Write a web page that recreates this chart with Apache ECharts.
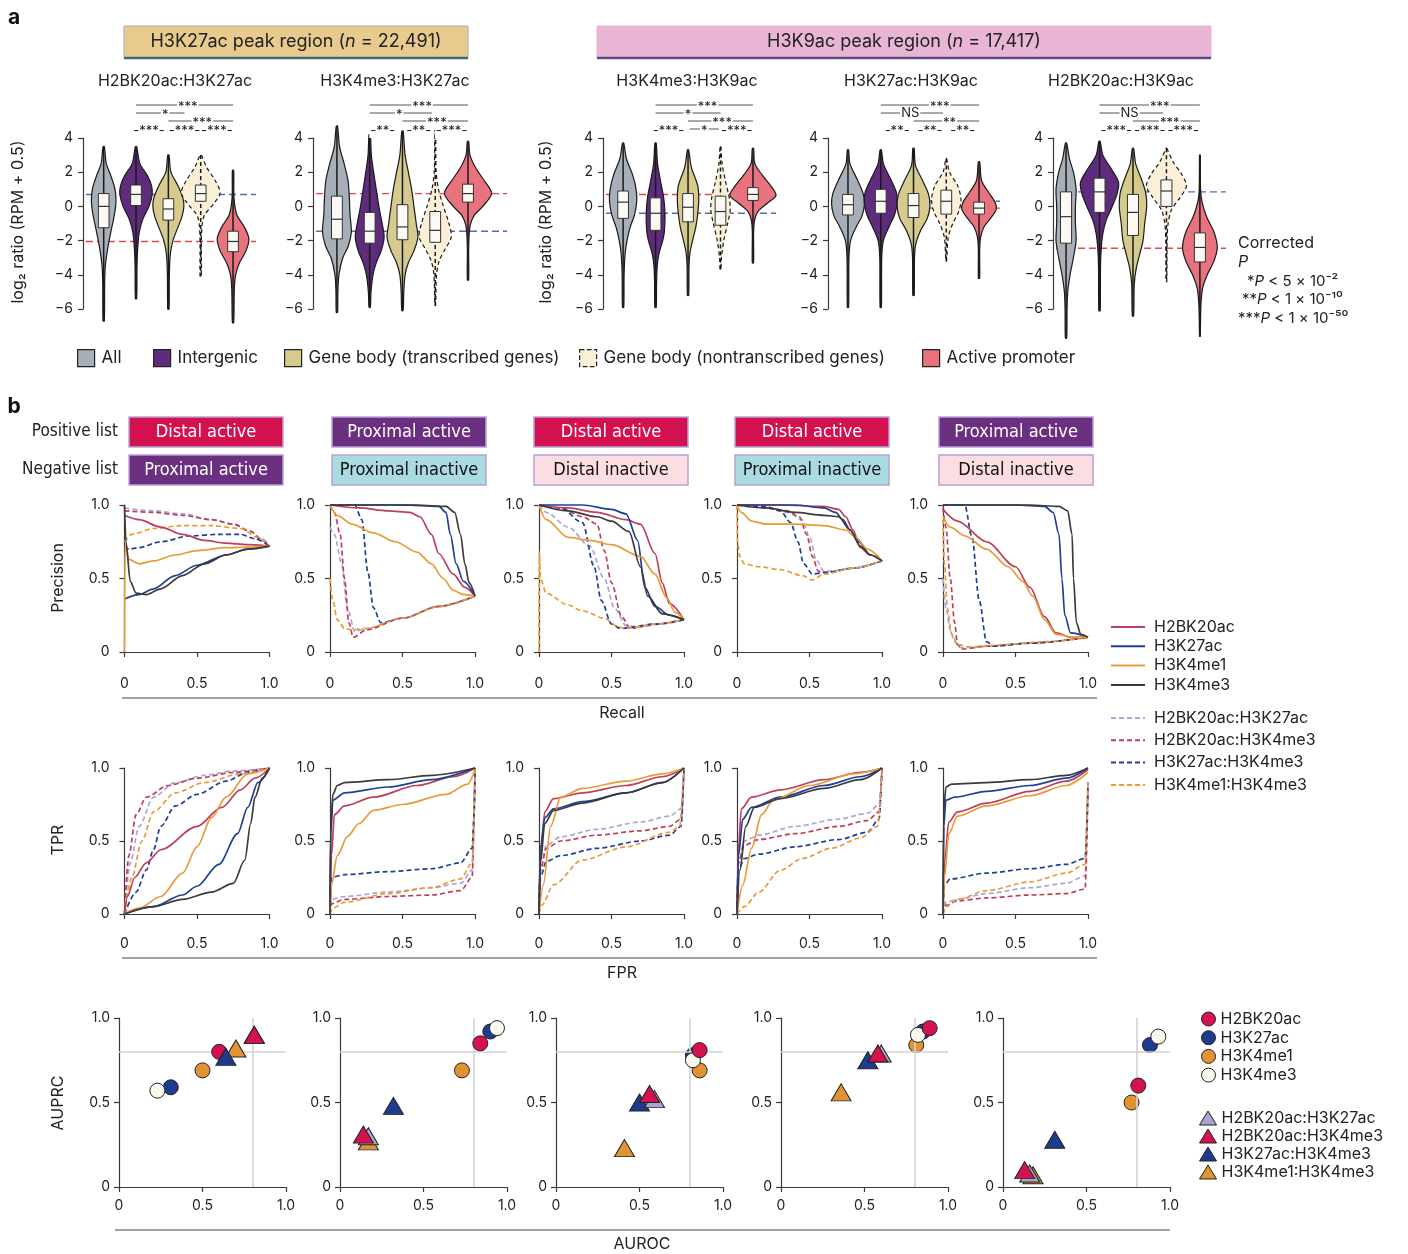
<!DOCTYPE html>
<html><head><meta charset="utf-8">
<script src="https://cdn.jsdelivr.net/npm/echarts@6/dist/echarts.min.js"></script>
<style>html,body{margin:0;padding:0;background:#fff}#c{width:1408px;height:1254px}</style>
</head><body><div id="c"></div><script>
// ---------------- DATA ----------------
const groupNames = ['All','Intergenic','Gene body (transcribed genes)','Gene body (nontranscribed genes)','Active promoter'];
const violinTitles = ['H2BK20ac:H3K27ac','H3K4me3:H3K27ac','H3K4me3:H3K9ac','H3K27ac:H3K9ac','H2BK20ac:H3K9ac'];
const violinTicks = [-6,-4,-2,0,2,4];
// [lo, q1, median, q3, hi] (log2 ratio)
const violinStats = [
 [[-6.7,-1.25,0,0.75,3.5],[-5.4,0.05,0.7,1.25,3.5],[-6.0,-0.8,-0.15,0.45,3.0],[-4.1,0.3,0.75,1.25,3.0],[-6.8,-2.65,-2.05,-1.45,2.1]],
 [[-6.2,-1.9,-0.75,0.6,4.7],[-5.9,-2.15,-1.45,-0.35,4.2],[-6.1,-1.95,-1.2,0.1,4.4],[-5.8,-2.1,-1.4,-0.3,4.7],[-4.3,0.25,0.75,1.3,3.8]],
 [[-5.9,-0.7,0.25,0.9,3.7],[-5.9,-1.4,-0.4,0.5,3.7],[-5.2,-0.9,-0.05,0.75,3.3],[-3.7,-1.1,-0.3,0.6,3.5],[-3.3,0.35,0.7,1.1,3.4]],
 [[-5.9,-0.5,0.1,0.7,3.3],[-5.9,-0.4,0.3,1.0,3.3],[-5.2,-0.65,0.05,0.75,3.4],[-3.2,-0.45,0.3,0.95,2.8],[-4.2,-0.45,-0.1,0.25,2.6]],
 [[-7.7,-2.15,-0.6,0.85,3.7],[-6.1,-0.35,0.85,1.65,3.8],[-6.4,-1.7,-0.35,0.7,3.4],[-4.4,0,0.9,1.55,3.4],[-7.6,-3.25,-2.4,-1.55,3.0]]
];
// density profiles: [log2 ratio, half width (fraction of category spacing)]
const violinShapes = [
 [
  [[3.5,0.02],[2.5,0.08],[1.8,0.22],[1.0,0.35],[0.3,0.38],[-0.5,0.33],[-1.5,0.22],[-2.5,0.12],[-3.5,0.05],[-4.5,0.03],[-6.7,0.02]],
  [[3.5,0.02],[2.5,0.12],[1.8,0.35],[1.2,0.48],[0.7,0.5],[0,0.4],[-0.7,0.22],[-1.5,0.1],[-2.5,0.05],[-3.5,0.03],[-5.4,0.02]],
  [[3.0,0.02],[2,0.08],[1.2,0.3],[0.5,0.45],[0,0.48],[-0.6,0.42],[-1.3,0.28],[-2,0.14],[-2.8,0.06],[-4,0.03],[-6,0.02]],
  [[3.0,0.02],[2.3,0.18],[1.5,0.45],[0.8,0.6],[0.2,0.42],[-0.5,0.12],[-1,0.05],[-2,0.02],[-4.1,0.02]],
  [[2.1,0.02],[0.5,0.03],[-0.5,0.12],[-1.2,0.35],[-1.9,0.49],[-2.6,0.4],[-3.3,0.2],[-4,0.08],[-4.8,0.04],[-6.8,0.02]]
 ],
 [
  [[4.7,0.02],[3.5,0.08],[2.5,0.22],[1.5,0.34],[0.5,0.38],[-0.5,0.4],[-1.5,0.44],[-2.3,0.35],[-3,0.18],[-4,0.06],[-5,0.03],[-6.2,0.02]],
  [[4.2,0.02],[3,0.05],[2,0.12],[1,0.2],[0,0.28],[-1,0.38],[-1.8,0.44],[-2.6,0.35],[-3.3,0.2],[-4,0.1],[-5,0.04],[-5.9,0.02]],
  [[4.4,0.02],[3,0.08],[2,0.18],[1,0.28],[0,0.35],[-1,0.42],[-1.8,0.47],[-2.6,0.35],[-3.3,0.18],[-4,0.08],[-5,0.04],[-6.1,0.02]],
  [[4.7,0.01],[2,0.03],[1,0.1],[0,0.25],[-1,0.42],[-1.8,0.49],[-2.5,0.3],[-3.2,0.12],[-4,0.04],[-5.8,0.01]],
  [[3.8,0.02],[3,0.06],[2.2,0.25],[1.5,0.5],[0.75,0.72],[0,0.45],[-0.5,0.2],[-1,0.08],[-1.5,0.04],[-2.5,0.02],[-4.3,0.02]]
 ],
 [
  [[3.7,0.02],[2.8,0.1],[1.8,0.3],[1,0.4],[0.3,0.42],[-0.5,0.35],[-1.2,0.22],[-2,0.12],[-2.8,0.06],[-4,0.03],[-5.9,0.02]],
  [[3.7,0.02],[2.5,0.06],[1.5,0.15],[0.5,0.25],[-0.5,0.29],[-1.5,0.27],[-2,0.22],[-2.8,0.1],[-3.5,0.05],[-4.5,0.03],[-5.9,0.02]],
  [[3.3,0.02],[2.3,0.1],[1.2,0.3],[0.4,0.33],[-0.4,0.3],[-1.2,0.24],[-2,0.14],[-2.7,0.06],[-3.5,0.03],[-5.2,0.02]],
  [[3.5,0.01],[2.5,0.05],[1.5,0.15],[0.5,0.27],[-0.2,0.3],[-1,0.22],[-2,0.1],[-3,0.03],[-3.7,0.01]],
  [[3.4,0.02],[2.5,0.06],[1.8,0.3],[1.2,0.55],[0.65,0.71],[0.2,0.45],[-0.3,0.15],[-0.8,0.05],[-1.5,0.02],[-3.3,0.02]]
 ],
 [
  [[3.3,0.02],[2.5,0.06],[1.5,0.3],[0.7,0.47],[0.1,0.5],[-0.6,0.42],[-1.2,0.25],[-2,0.08],[-3,0.03],[-5.9,0.02]],
  [[3.3,0.02],[2.5,0.08],[1.6,0.3],[0.8,0.48],[0.2,0.5],[-0.5,0.42],[-1.2,0.25],[-2,0.08],[-3,0.03],[-5.9,0.02]],
  [[3.4,0.02],[2.4,0.06],[1.5,0.28],[0.7,0.46],[0,0.5],[-0.7,0.42],[-1.4,0.22],[-2.2,0.07],[-3,0.03],[-5.2,0.02]],
  [[2.8,0.01],[2,0.1],[1.2,0.35],[0.4,0.45],[-0.3,0.38],[-1,0.2],[-1.8,0.06],[-3.2,0.01]],
  [[2.6,0.02],[1.5,0.08],[0.8,0.3],[0.2,0.5],[-0.2,0.52],[-0.7,0.35],[-1.2,0.15],[-1.8,0.05],[-2.5,0.02],[-4.2,0.02]]
 ],
 [
  [[3.7,0.02],[2.8,0.1],[2,0.22],[1,0.3],[0,0.28],[-1,0.28],[-2,0.3],[-3,0.22],[-4,0.12],[-5,0.05],[-6,0.03],[-7.7,0.02]],
  [[3.8,0.02],[3,0.1],[2.2,0.35],[1.4,0.57],[0.7,0.52],[0,0.38],[-0.8,0.2],[-1.6,0.1],[-2.5,0.05],[-3.5,0.03],[-6.1,0.02]],
  [[3.4,0.02],[2.5,0.08],[1.6,0.25],[0.8,0.38],[0,0.41],[-1,0.35],[-2,0.3],[-2.8,0.2],[-3.6,0.1],[-4.5,0.04],[-6.4,0.02]],
  [[3.4,0.01],[2.6,0.2],[1.9,0.45],[1.2,0.6],[0.5,0.4],[-0.2,0.15],[-1,0.05],[-2,0.02],[-4.4,0.01]],
  [[3.0,0.01],[1,0.02],[0.3,0.06],[-0.6,0.2],[-1.5,0.42],[-2.4,0.52],[-3.2,0.42],[-4,0.22],[-4.8,0.08],[-5.8,0.03],[-7.6,0.01]]
 ]
];
const refBlue = [0.7,-1.45,-0.4,0.3,0.85];
const refRed = [-2.05,0.75,0.7,-0.1,-2.45];
// significance marks: [row, from, to, label, label position] (positions in category units 1..5)
const sigMarks = [
 [[0,2,5,'***',3.6],[1,2,3.5,'*',2.9],[2,3,5,'***',4.05],[3,2.5,2.5,'-***-',2.4],[3,3.5,3.5,'-***-',3.5],[3,4.5,4.5,'-***-',4.5]],
 [[0,2,5,'***',3.6],[1,2,3.9,'*',2.9],[2,3,5,'***',4.05],[3,2.5,2.5,'-**-',2.4],[3,3.5,3.5,'-**-',3.5],[3,4.5,4.5,'-***-',4.5]],
 [[0,2,5,'***',3.6],[1,2,4,'*',3.0],[2,3,5,'***',4.05],[3,2.5,2.5,'-***-',2.4],[3,3.05,3.95,'*',3.5],[3,4.5,4.5,'-***-',4.5]],
 [[0,2,5,'***',3.8],[1,2,3.9,'NS',2.9],[2,3,5,'**',4.1],[3,2.5,2.5,'-**-',2.5],[3,3.5,3.5,'-**-',3.5],[3,4.5,4.5,'-**-',4.5]],
 [[0,2,5,'***',3.8],[1,2,3.9,'NS',2.9],[2,3,5,'***',4.1],[3,2.5,2.5,'-***-',2.5],[3,3.5,3.5,'-***-',3.5],[3,4.5,4.5,'-***-',4.5]]
];

const positiveList = ['Distal active','Proximal active','Distal active','Distal active','Proximal active'];
const negativeList = ['Proximal active','Proximal inactive','Distal inactive','Proximal inactive','Distal inactive'];
const curveNames = ['H2BK20ac','H3K27ac','H3K4me1','H3K4me3','H2BK20ac:H3K27ac','H2BK20ac:H3K4me3','H3K27ac:H3K4me3','H3K4me1:H3K4me3'];

// precision-recall curves [recall, precision]
const prCurves = [
 [
  [[0,0.93],[0.1,0.9],[0.25,0.85],[0.4,0.8],[0.55,0.76],[0.7,0.74],[0.85,0.73],[1,0.72]],
  [[0,0.36],[0.1,0.39],[0.2,0.43],[0.35,0.52],[0.5,0.59],[0.7,0.66],[0.85,0.7],[1,0.72]],
  [[0,0],[0.003,0.72],[0.03,0.63],[0.1,0.6],[0.2,0.62],[0.35,0.66],[0.5,0.69],[0.7,0.71],[1,0.72]],
  [[0,1],[0.01,0.75],[0.04,0.48],[0.08,0.4],[0.15,0.39],[0.25,0.43],[0.4,0.52],[0.55,0.6],[0.7,0.66],[0.85,0.7],[1,0.72]],
  [[0,0.98],[0.2,0.96],[0.4,0.94],[0.6,0.9],[0.75,0.87],[0.85,0.83],[0.95,0.77],[1,0.72]],
  [[0,0.96],[0.2,0.95],[0.4,0.93],[0.6,0.9],[0.75,0.87],[0.87,0.82],[0.95,0.76],[1,0.72]],
  [[0,0.72],[0.03,0.7],[0.1,0.71],[0.25,0.75],[0.45,0.79],[0.65,0.8],[0.8,0.8],[0.9,0.77],[1,0.72]],
  [[0,0.75],[0.05,0.8],[0.2,0.84],[0.4,0.86],[0.6,0.86],[0.8,0.84],[0.92,0.78],[1,0.72]]
 ],
 [
  [[0,1],[0.2,0.98],[0.4,0.96],[0.55,0.95],[0.62,0.92],[0.7,0.8],[0.75,0.67],[0.85,0.53],[0.93,0.44],[1,0.38]],
  [[0,1],[0.5,1],[0.75,0.99],[0.8,0.95],[0.83,0.8],[0.87,0.6],[0.92,0.48],[1,0.38]],
  [[0,1],[0.05,0.93],[0.15,0.87],[0.3,0.81],[0.45,0.75],[0.6,0.68],[0.7,0.6],[0.78,0.5],[0.85,0.42],[0.92,0.39],[1,0.38]],
  [[0,1],[0.6,1],[0.8,0.99],[0.86,0.95],[0.9,0.8],[0.93,0.6],[0.96,0.47],[1,0.38]],
  [[0,0.85],[0.03,0.8],[0.08,0.6],[0.12,0.3],[0.17,0.14],[0.25,0.16],[0.5,0.23],[0.75,0.31],[1,0.38]],
  [[0,1],[0.03,0.95],[0.07,0.8],[0.1,0.5],[0.13,0.2],[0.16,0.1],[0.25,0.15],[0.5,0.23],[0.75,0.31],[1,0.38]],
  [[0,1],[0.17,1],[0.22,0.9],[0.26,0.55],[0.3,0.3],[0.35,0.2],[0.5,0.23],[0.75,0.31],[1,0.38]],
  [[0,0.5],[0.02,0.35],[0.05,0.22],[0.1,0.16],[0.15,0.15],[0.25,0.16],[0.5,0.23],[0.75,0.31],[1,0.38]]
 ],
 [
  [[0,1],[0.2,0.98],[0.4,0.95],[0.6,0.9],[0.7,0.87],[0.8,0.67],[0.85,0.47],[0.9,0.33],[1,0.22]],
  [[0,1],[0.3,1],[0.5,0.97],[0.6,0.94],[0.68,0.76],[0.73,0.44],[0.8,0.31],[0.9,0.25],[1,0.22]],
  [[0,1],[0.05,0.9],[0.2,0.78],[0.35,0.76],[0.5,0.73],[0.7,0.65],[0.8,0.53],[0.88,0.37],[0.94,0.27],[1,0.22]],
  [[0,1],[0.2,0.96],[0.4,0.92],[0.5,0.89],[0.62,0.82],[0.7,0.58],[0.75,0.38],[0.85,0.26],[1,0.22]],
  [[0,1],[0.05,0.95],[0.2,0.85],[0.35,0.72],[0.45,0.5],[0.52,0.3],[0.6,0.18],[0.68,0.17],[0.85,0.19],[1,0.22]],
  [[0,1],[0.15,0.98],[0.3,0.92],[0.4,0.87],[0.45,0.69],[0.5,0.47],[0.57,0.24],[0.63,0.16],[0.8,0.19],[1,0.22]],
  [[0,1],[0.15,0.98],[0.3,0.88],[0.38,0.58],[0.43,0.35],[0.5,0.19],[0.56,0.16],[0.8,0.19],[1,0.22]],
  [[0,0],[0.002,0.68],[0.01,0.5],[0.05,0.4],[0.2,0.32],[0.3,0.28],[0.45,0.23],[0.55,0.17],[0.6,0.16],[0.8,0.19],[1,0.22]]
 ],
 [
  [[0,1],[0.3,1],[0.6,0.99],[0.7,0.97],[0.75,0.92],[0.8,0.83],[0.85,0.71],[0.92,0.66],[1,0.62]],
  [[0,1],[0.4,1],[0.6,0.98],[0.68,0.95],[0.73,0.9],[0.78,0.83],[0.84,0.75],[0.92,0.66],[1,0.62]],
  [[0,1],[0.03,0.95],[0.1,0.89],[0.2,0.87],[0.4,0.87],[0.6,0.86],[0.75,0.83],[0.82,0.78],[0.9,0.7],[1,0.62]],
  [[0,1],[0.2,0.98],[0.4,0.95],[0.6,0.93],[0.7,0.92],[0.78,0.83],[0.85,0.72],[0.92,0.66],[1,0.62]],
  [[0,1],[0.2,0.98],[0.35,0.95],[0.45,0.9],[0.5,0.78],[0.55,0.62],[0.6,0.55],[0.65,0.55],[0.8,0.57],[1,0.62]],
  [[0,1],[0.2,0.98],[0.35,0.96],[0.43,0.92],[0.48,0.8],[0.52,0.65],[0.56,0.55],[0.62,0.54],[0.8,0.57],[1,0.62]],
  [[0,1],[0.2,0.99],[0.3,0.96],[0.37,0.88],[0.42,0.75],[0.46,0.6],[0.52,0.53],[0.6,0.54],[0.8,0.57],[1,0.62]],
  [[0,1],[0.003,0.75],[0.02,0.65],[0.05,0.6],[0.15,0.58],[0.3,0.56],[0.45,0.52],[0.52,0.49],[0.6,0.53],[0.8,0.57],[1,0.62]]
 ],
 [
  [[0,0.97],[0.1,0.89],[0.3,0.75],[0.5,0.58],[0.6,0.44],[0.7,0.24],[0.78,0.13],[0.88,0.1],[1,0.1]],
  [[0,1],[0.5,1],[0.7,0.99],[0.76,0.95],[0.8,0.8],[0.82,0.5],[0.84,0.25],[0.88,0.13],[1,0.1]],
  [[0,0.92],[0.05,0.85],[0.15,0.79],[0.3,0.7],[0.45,0.58],[0.55,0.48],[0.62,0.38],[0.7,0.22],[0.78,0.12],[0.9,0.1],[1,0.1]],
  [[0,1],[0.6,1],[0.8,0.99],[0.86,0.96],[0.89,0.8],[0.9,0.5],[0.92,0.2],[0.95,0.12],[1,0.1]],
  [[0,0.5],[0.02,0.3],[0.05,0.15],[0.08,0.07],[0.12,0.03],[0.3,0.04],[0.6,0.06],[1,0.1]],
  [[0,0.98],[0.02,0.85],[0.05,0.5],[0.08,0.2],[0.1,0.05],[0.13,0.02],[0.3,0.04],[0.6,0.06],[1,0.1]],
  [[0,1],[0.15,1],[0.2,0.78],[0.25,0.35],[0.3,0.07],[0.35,0.04],[0.6,0.06],[1,0.1]],
  [[0,0.9],[0.01,0.6],[0.03,0.3],[0.06,0.12],[0.1,0.05],[0.2,0.03],[0.4,0.05],[0.7,0.07],[1,0.1]]
 ]
];
// ROC curves [FPR, TPR]
const rocCurves = [
 [
  [[0,0],[0.02,0.12],[0.07,0.25],[0.15,0.35],[0.25,0.44],[0.5,0.6],[0.67,0.73],[0.8,0.85],[0.9,0.93],[1,1]],
  [[0,0],[0.2,0.05],[0.4,0.13],[0.5,0.19],[0.65,0.34],[0.78,0.55],[0.85,0.73],[0.92,0.9],[1,1]],
  [[0,0],[0.1,0.04],[0.25,0.12],[0.4,0.28],[0.5,0.46],[0.6,0.66],[0.7,0.8],[0.85,0.96],[1,1]],
  [[0,0],[0.2,0.05],[0.4,0.1],[0.6,0.15],[0.75,0.21],[0.83,0.37],[0.87,0.62],[0.9,0.8],[0.95,0.93],[1,1]],
  [[0,0],[0.04,0.35],[0.1,0.6],[0.2,0.8],[0.35,0.9],[0.55,0.95],[0.75,0.98],[1,1]],
  [[0,0],[0.03,0.4],[0.08,0.68],[0.15,0.8],[0.3,0.88],[0.5,0.93],[0.75,0.97],[1,1]],
  [[0,0],[0.08,0.15],[0.15,0.3],[0.2,0.44],[0.25,0.6],[0.35,0.74],[0.5,0.82],[0.7,0.91],[0.85,0.97],[1,1]],
  [[0,0],[0.05,0.25],[0.12,0.5],[0.2,0.7],[0.35,0.83],[0.55,0.9],[0.8,0.96],[1,1]]
 ],
 [
  [[0,0],[0.01,0.4],[0.03,0.68],[0.1,0.74],[0.3,0.8],[0.6,0.88],[0.85,0.94],[1,1]],
  [[0,0],[0.005,0.55],[0.02,0.78],[0.1,0.83],[0.4,0.87],[0.7,0.92],[1,1]],
  [[0,0],[0.01,0.2],[0.05,0.4],[0.12,0.53],[0.2,0.62],[0.3,0.71],[0.5,0.75],[0.8,0.82],[0.95,0.89],[1,0.99]],
  [[0,0],[0.005,0.6],[0.02,0.82],[0.05,0.88],[0.1,0.9],[0.4,0.92],[0.7,0.95],[1,1]],
  [[0,0],[0.01,0.1],[0.1,0.12],[0.4,0.15],[0.7,0.18],[0.9,0.21],[0.98,0.3],[1,1]],
  [[0,0],[0.01,0.07],[0.1,0.1],[0.4,0.12],[0.7,0.13],[0.9,0.16],[0.98,0.25],[1,1]],
  [[0,0],[0.01,0.25],[0.1,0.27],[0.4,0.29],[0.7,0.31],[0.9,0.35],[0.98,0.45],[0.995,0.7],[1,1]],
  [[0,0],[0.02,0.04],[0.1,0.08],[0.4,0.14],[0.7,0.18],[0.9,0.24],[0.98,0.35],[1,1]]
 ],
 [
  [[0,0],[0.01,0.4],[0.04,0.7],[0.1,0.79],[0.3,0.83],[0.6,0.88],[0.85,0.94],[1,1]],
  [[0,0],[0.01,0.45],[0.04,0.66],[0.1,0.72],[0.3,0.77],[0.6,0.83],[0.85,0.9],[1,1]],
  [[0,0],[0.03,0.2],[0.08,0.6],[0.15,0.8],[0.3,0.86],[0.6,0.91],[0.85,0.96],[1,1]],
  [[0,0],[0.01,0.35],[0.04,0.62],[0.1,0.71],[0.3,0.76],[0.6,0.83],[0.85,0.9],[1,1]],
  [[0,0],[0.01,0.3],[0.05,0.47],[0.15,0.53],[0.4,0.58],[0.7,0.63],[0.9,0.67],[0.98,0.72],[1,1]],
  [[0,0],[0.01,0.3],[0.05,0.45],[0.15,0.5],[0.4,0.54],[0.7,0.57],[0.9,0.6],[0.98,0.65],[1,1]],
  [[0,0],[0.01,0.25],[0.05,0.36],[0.15,0.4],[0.4,0.45],[0.7,0.5],[0.9,0.54],[0.98,0.6],[1,1]],
  [[0,0],[0.02,0.06],[0.1,0.2],[0.3,0.37],[0.6,0.46],[0.9,0.56],[0.97,0.6],[1,1]]
 ],
 [
  [[0,0],[0.01,0.45],[0.03,0.72],[0.1,0.8],[0.3,0.85],[0.6,0.92],[0.85,0.97],[1,1]],
  [[0,0],[0.01,0.4],[0.04,0.65],[0.1,0.73],[0.3,0.8],[0.6,0.88],[0.85,0.94],[1,1]],
  [[0,0],[0.04,0.2],[0.1,0.45],[0.17,0.68],[0.25,0.78],[0.5,0.88],[0.8,0.96],[1,1]],
  [[0,0],[0.02,0.3],[0.06,0.6],[0.12,0.73],[0.3,0.79],[0.6,0.86],[0.85,0.92],[1,1]],
  [[0,0],[0.01,0.35],[0.05,0.5],[0.15,0.54],[0.4,0.6],[0.7,0.65],[0.9,0.69],[0.98,0.75],[1,1]],
  [[0,0],[0.01,0.35],[0.05,0.47],[0.15,0.51],[0.4,0.55],[0.7,0.6],[0.9,0.64],[0.98,0.7],[1,1]],
  [[0,0],[0.01,0.3],[0.05,0.38],[0.15,0.41],[0.4,0.46],[0.7,0.51],[0.9,0.56],[0.98,0.65],[1,1]],
  [[0,0],[0.05,0.05],[0.15,0.15],[0.3,0.3],[0.45,0.38],[0.65,0.45],[0.85,0.52],[0.97,0.6],[1,1]]
 ],
 [
  [[0,0],[0.01,0.35],[0.04,0.63],[0.1,0.7],[0.3,0.76],[0.6,0.84],[0.85,0.91],[1,0.99]],
  [[0,0],[0.005,0.6],[0.02,0.78],[0.08,0.8],[0.3,0.84],[0.6,0.88],[0.85,0.93],[1,1]],
  [[0,0],[0.01,0.25],[0.04,0.55],[0.1,0.67],[0.3,0.74],[0.6,0.81],[0.85,0.88],[1,0.97]],
  [[0,0],[0.005,0.7],[0.02,0.87],[0.06,0.89],[0.3,0.9],[0.6,0.92],[0.85,0.95],[1,1]],
  [[0,0],[0.02,0.08],[0.1,0.1],[0.3,0.14],[0.6,0.18],[0.85,0.21],[0.98,0.26],[1,0.9]],
  [[0,0],[0.02,0.06],[0.1,0.09],[0.3,0.11],[0.6,0.13],[0.85,0.14],[0.98,0.17],[1,0.85]],
  [[0,0],[0.01,0.2],[0.05,0.24],[0.3,0.28],[0.6,0.31],[0.85,0.34],[0.98,0.38],[1,0.9]],
  [[0,0],[0.02,0.05],[0.1,0.1],[0.3,0.16],[0.6,0.22],[0.85,0.28],[0.98,0.34],[1,0.9]]
 ]
];
// [AUROC, AUPRC] per panel, in curveNames order
const aucPoints = [
 [[0.6,0.8],[0.31,0.59],[0.5,0.69],[0.23,0.57],[0.81,0.9],[0.81,0.9],[0.64,0.77],[0.7,0.82]],
 [[0.84,0.85],[0.9,0.92],[0.73,0.69],[0.94,0.94],[0.17,0.3],[0.14,0.31],[0.32,0.48],[0.17,0.27]],
 [[0.86,0.81],[0.82,0.78],[0.86,0.69],[0.82,0.75],[0.59,0.52],[0.56,0.55],[0.5,0.5],[0.41,0.23]],
 [[0.89,0.94],[0.85,0.92],[0.81,0.84],[0.82,0.9],[0.6,0.79],[0.58,0.79],[0.52,0.75],[0.36,0.56]],
 [[0.81,0.6],[0.88,0.84],[0.77,0.5],[0.93,0.89],[0.16,0.08],[0.13,0.1],[0.31,0.28],[0.18,0.07]]
];
const aucRef = 0.8;

// ---------------- STYLE ----------------
const FONT = 'Inter, "Noto Sans", sans-serif';
const NARROW = '"Liberation Sans Narrow", "DejaVu Sans Condensed", "Roboto", sans-serif';
const vColors = ['#a7b0b8','#5f2b7c','#d6ca8c','#fcefd8','#e8737f'];
const lineColors = ['#bf3f5a','#1f3f98','#eb9a38','#3b3b3b','#aba6d8','#bf3f5a','#1f3f98','#eb9a38'];
const markColors = ['#d4124f','#1e3c8e','#e39232','#fbf8ef','#aaa5d3','#d4124f','#1e3c8e','#e39232'];
const listColors = {'Distal active':['#d3114e','#fff'],'Proximal active':['#6b2f7f','#fff'],'Proximal inactive':['#a9dbe0','#111'],'Distal inactive':['#fbdde2','#111']};
const minus = v => String(v).replace('-','\u2212');
const unitFmt = v => v === 0 ? '0' : (v === 1 ? '1.0' : '0.5');

const grids=[], xAxes=[], yAxes=[], series=[], graphics=[], legends=[];
function axisCommon(extra){
  return Object.assign({axisLine:{show:true,lineStyle:{color:'#3a3a3a',width:1.2}},
    axisTick:{show:true,length:5,lineStyle:{color:'#3a3a3a',width:1.2}},
    axisLabel:{fontSize:14,color:'#222',fontFamily:FONT,margin:8},
    splitLine:{show:false}}, extra);
}
function txt(x,y,text,opt){
  opt = opt||{};
  return {type:'text', x, y, rotation:opt.rot||0, silent:true, z:50,
    style:Object.assign({text, fontSize:16, fontFamily:FONT, fill:'#222', align:'center', verticalAlign:'middle'}, opt.style||{})};
}

// ---------------- PANEL a: violins ----------------
const vLeft=[83,313,603,828,1053], vWidth=[173,194,173,172,173], vXmin=[0.36,0.27,0.38,0.39,0.61], vXmax=[5.71,6.19,5.71,5.64,5.78];
const vTitleX=[175,395,687,911,1121];
violinTitles.forEach((t,p)=>{
  const gi = grids.length;
  grids.push({left:vLeft[p], top:138, width:vWidth[p], height:171});
  xAxes.push({gridIndex:gi,type:'value',min:vXmin[p],max:vXmax[p],show:false});
  yAxes.push(axisCommon({gridIndex:gi,type:'value',min:violinTicks[0],max:violinTicks[violinTicks.length-1],interval:2,
    axisLabel:{fontSize:14,color:'#222',fontFamily:FONT,margin:10,formatter:minus}}));
  series.push({type:'custom', xAxisIndex:gi, yAxisIndex:gi, z:1, silent:true, clip:false, encode:{x:0,y:1},
    data:[[1,refBlue[p],0],[1,refRed[p],1]],
    renderItem:(params,api)=>{
      const cs=params.coordSys; const y=api.coord([1,api.value(1)])[1];
      return {type:'line', shape:{x1:cs.x+3,y1:y,x2:cs.x+cs.width,y2:y},
        style:{stroke: api.value(2)?'#e2474f':'#5869b5', lineWidth:1.4, lineDash:[7,4]}};
    }});
  groupNames.forEach((g,k)=>{
    const shp = violinShapes[p][k];
    const dash = k===3 ? [4,3] : null;
    series.push({type:'custom', name:g, xAxisIndex:gi, yAxisIndex:gi, z:2, clip:false, silent:true,
      itemStyle:{color:vColors[k], borderColor:'#222', borderWidth:1.2, borderType: k===3?'dashed':'solid'},
      encode:{x:0,y:[1,2,3,4,5]},
      data:[[k+1].concat(violinStats[p][k])],
      renderItem:(params,api)=>{
        const xc=api.value(0), lo=api.value(1), q1=api.value(2), md=api.value(3), q3=api.value(4), hi=api.value(5);
        const pts=[];
        shp.forEach(([y,w])=>pts.push(api.coord([xc+w,y])));
        for(let i=shp.length-1;i>=0;i--){ const [y,w]=shp[i]; pts.push(api.coord([xc-w,y])); }
        const top=api.coord([xc,hi]), bot=api.coord([xc,lo]);
        const a=api.coord([xc-0.165,q3]), b=api.coord([xc+0.165,q1]);
        const m1=api.coord([xc-0.165,md]), m2=api.coord([xc+0.165,md]);
        return {type:'group', children:[
          {type:'polygon', shape:{points:pts, smooth:0.3}, style:{fill:vColors[k], stroke:'#1a1a1a', lineWidth:1.2, lineDash:dash}},
          {type:'line', shape:{x1:top[0],y1:top[1],x2:bot[0],y2:bot[1]}, style:{stroke:'#1a1a1a',lineWidth:1.5,lineDash:dash}},
          {type:'rect', shape:{x:a[0],y:a[1],width:b[0]-a[0],height:b[1]-a[1]}, style:{fill:'#fbf9f3',stroke:'#333',lineWidth:1}},
          {type:'line', shape:{x1:m1[0],y1:m1[1],x2:m2[0],y2:m2[1]}, style:{stroke:'#333',lineWidth:1.2}}
        ]};
      }});
  });
  series.push({type:'custom', xAxisIndex:gi, yAxisIndex:gi, z:3, clip:false, silent:true, encode:{x:0,y:1},
    data: sigMarks[p].map(a=>[a[4],4]),
    renderItem:(params,api)=>{
      const a = sigMarks[p][params.dataIndex];
      const base = api.coord([a[1],4]);
      const y = base[1] - 33 + 8*a[0];
      const x2 = api.coord([a[2],4])[0], xt = api.coord([a[4],4])[0];
      const ch=[];
      if (a[2]>a[1]) ch.push({type:'line',shape:{x1:base[0],y1:y,x2:x2,y2:y},style:{stroke:'#555',lineWidth:1}});
      ch.push({type:'text', x:xt, y:y + (a[3].indexOf('*')>=0?2.5:0),
        style:{text:a[3], fontSize:13, fontFamily:FONT, fill:'#222', align:'center', verticalAlign:'middle', backgroundColor:'#fff', padding:[0,1]}});
      return {type:'group',children:ch};
    }});
  graphics.push(txt(vTitleX[p],81,t,{style:{fontSize:16}}));
});
graphics.push(txt(18,222,'log\u2082 ratio (RPM + 0.5)',{rot:Math.PI/2}));
graphics.push(txt(546,222,'log\u2082 ratio (RPM + 0.5)',{rot:Math.PI/2}));
graphics.push({type:'rect', shape:{x:124,y:26,width:344,height:32}, style:{fill:'#e9ca8e',stroke:'#9cb5b0',lineWidth:1}, z:40, silent:true});
graphics.push({type:'line', shape:{x1:124,y1:58,x2:468,y2:58}, style:{stroke:'#3b6b75',lineWidth:2.5}, z:41, silent:true});
graphics.push({type:'rect', shape:{x:597,y:26,width:614,height:32}, style:{fill:'#e8b5d5',stroke:'#e8b5d5',lineWidth:1}, z:40, silent:true});
graphics.push({type:'line', shape:{x1:597,y1:58,x2:1211,y2:58}, style:{stroke:'#5b4b8a',lineWidth:2.5}, z:41, silent:true});
const hdrRich = {a:{fontSize:18,fontFamily:FONT,fill:'#222',color:'#222'}, i:{fontSize:18,fontFamily:FONT,fontStyle:'italic',fill:'#222',color:'#222'}};
graphics.push(txt(296,42,'{a|H3K27ac peak region (}{i|n}{a| = 22,491)}',{style:{rich:hdrRich}}));
graphics.push(txt(904,42,'{a|H3K9ac peak region (}{i|n}{a| = 17,417)}',{style:{rich:hdrRich}}));
graphics.push(txt(14,18,'a',{style:{fontSize:21,fontWeight:'bold',fill:'#111'}}));
graphics.push(txt(14,407,'b',{style:{fontSize:21,fontWeight:'bold',fill:'#111'}}));
const pRich = {n:{fontSize:15,fontFamily:FONT,fill:'#222',color:'#222'}, i:{fontSize:15,fontFamily:FONT,fontStyle:'italic',fill:'#222',color:'#222'}};
graphics.push(txt(1238,243,'Corrected',{style:{align:'left'}}));
graphics.push(txt(1238,262,'{i|P}',{style:{align:'left',rich:{i:{fontSize:16,fontFamily:FONT,fontStyle:'italic',fill:'#222'}}}}));
graphics.push(txt(1247,281,'{n|*}{i|P}{n| < 5 \u00d7 10\u207b\u00b2}',{style:{align:'left',rich:pRich}}));
graphics.push(txt(1242,299,'{n|**}{i|P}{n| < 1 \u00d7 10\u207b\u00b9\u2070}',{style:{align:'left',rich:pRich}}));
graphics.push(txt(1238,318,'{n|***}{i|P}{n| < 1 \u00d7 10\u207b\u2075\u2070}',{style:{align:'left',rich:pRich}}));
const vLegLeft=[77,153,284,579,922];
groupNames.forEach((g,k)=>{
  legends.push({show:true, left:vLegLeft[k], top:349, padding:0, orient:'horizontal', selectedMode:false, itemWidth:17, itemHeight:17,
    textStyle:{fontSize:17,fontFamily:FONT,color:'#222',padding:[0,0,0,2]},
    data:[{name:g, icon:'rect', itemStyle:{color:vColors[k], borderColor:'#222', borderWidth:1.2, borderType:k===3?'dashed':'solid'}}]});
});

// ---------------- PANEL b: lists ----------------
const colX=[129,332,534,735,939];
graphics.push(txt(118,432,'Positive list',{style:{align:'right',fontFamily:NARROW,fontSize:17}}));
graphics.push(txt(118,470,'Negative list',{style:{align:'right',fontFamily:NARROW,fontSize:17}}));
[positiveList,negativeList].forEach((lst,r)=>{
  lst.forEach((name,p)=>{
    const y = r===0?417:455;
    graphics.push({type:'rect', shape:{x:colX[p],y,width:154,height:30}, style:{fill:listColors[name][0],stroke:'#b8a3d8',lineWidth:1.5}, z:40, silent:true});
    graphics.push(txt(colX[p]+77,y+15.5,name,{style:{fontFamily:NARROW,fontSize:18,fill:listColors[name][1]}}));
  });
});

// ---------------- PR and ROC curves ----------------
const cLeft=[124.5,330,539,737,943];
function curvePanel(p,top,height,curves,labelMargin){
  const gi = grids.length;
  grids.push({left:cLeft[p],top,width:145,height});
  xAxes.push(axisCommon({gridIndex:gi,type:'value',min:0,max:1,interval:0.5,offset:14,
    axisLabel:{fontSize:14,color:'#222',fontFamily:FONT,margin:labelMargin,formatter:unitFmt}}));
  yAxes.push(axisCommon({gridIndex:gi,type:'value',min:0,max:1,interval:0.5,offset:7,
    axisLabel:{fontSize:14,color:'#222',fontFamily:FONT,margin:8,formatter:unitFmt}}));
  curves.forEach((pts,k)=>{
    series.push({type:'line', name:curveNames[k], xAxisIndex:gi, yAxisIndex:gi, data:pts, symbol:'none', showSymbol:false,
      smooth:0.3, smoothMonotone:'x', clip:false, silent:true, z:k>=4?2:3,
      itemStyle:{color:lineColors[k]},
      lineStyle:{color:lineColors[k], width:1.7, type:k>=4?[5,3]:'solid'}});
  });
}
for (let p=0;p<5;p++) curvePanel(p,505,147,prCurves[p],11);
for (let p=0;p<5;p++) curvePanel(p,768,146,rocCurves[p],9);
graphics.push({type:'line', shape:{x1:122,y1:698,x2:1097,y2:698}, style:{stroke:'#444',lineWidth:1.2}, silent:true});
graphics.push(txt(622,713,'Recall'));
graphics.push({type:'line', shape:{x1:122,y1:958,x2:1097,y2:958}, style:{stroke:'#444',lineWidth:1.2}, silent:true});
graphics.push(txt(622,973,'FPR'));
graphics.push(txt(58,578,'Precision',{rot:Math.PI/2}));
graphics.push(txt(58,840,'TPR',{rot:Math.PI/2}));
const lineLegText = {fontSize:16,fontFamily:FONT,color:'#222',lineHeight:16,padding:[0,0,0,4]};
legends.push({show:true,left:1110,top:619,padding:0,orient:'vertical',selectedMode:false,itemWidth:34,itemHeight:10,itemGap:3.3,
  itemStyle:{opacity:0}, textStyle:lineLegText, data:curveNames.slice(0,4)});
legends.push({show:true,left:1110,top:710,padding:0,orient:'vertical',selectedMode:false,itemWidth:34,itemHeight:10,itemGap:6.3,
  itemStyle:{opacity:0}, textStyle:lineLegText, data:curveNames.slice(4)});

// ---------------- AUROC / AUPRC scatter ----------------
const sLeft=[119,340,556,781,1003];
const drawOrder=[2,1,3,0,7,6,4,5];
for (let p=0;p<5;p++){
  const gi = grids.length;
  grids.push({left:sLeft[p],top:1018,width:167,height:169});
  xAxes.push(axisCommon({gridIndex:gi,type:'value',min:0,max:1,interval:0.5,
    axisLabel:{fontSize:14,color:'#222',fontFamily:FONT,margin:12,formatter:unitFmt}}));
  yAxes.push(axisCommon({gridIndex:gi,type:'value',min:0,max:1,interval:0.5,
    axisLabel:{fontSize:14,color:'#222',fontFamily:FONT,margin:9,formatter:unitFmt}}));
  series.push({type:'scatter', xAxisIndex:gi, yAxisIndex:gi, data:[], z:1, silent:true,
    markLine:{silent:true, symbol:'none', label:{show:false}, animation:false,
      lineStyle:{color:'#d2d2d2',width:1.6,type:'solid'}, data:[{xAxis:aucRef},{yAxis:aucRef}]}});
  drawOrder.forEach((k,ord)=>{
    series.push({type:'scatter', name:'s:'+curveNames[k], xAxisIndex:gi, yAxisIndex:gi, z:3+ord, silent:true,
      data:[aucPoints[p][k]], symbol:k<4?'circle':'triangle', symbolSize:k<4?15:[20,17],
      itemStyle:{color:markColors[k], borderColor:'#222', borderWidth:1, opacity:1}});
  });
}
graphics.push({type:'line', shape:{x1:115,y1:1230,x2:1170,y2:1230}, style:{stroke:'#444',lineWidth:1.2}, silent:true});
graphics.push(txt(642,1244,'AUROC'));
graphics.push(txt(58,1103,'AUPRC',{rot:Math.PI/2}));
const scLegText = {fontSize:16,fontFamily:FONT,color:'#222',lineHeight:16};
legends.push({show:true,left:1201,top:1011,padding:0,orient:'vertical',selectedMode:false,itemWidth:14,itemHeight:14,itemGap:2.7,
  textStyle:scLegText, formatter:n=>n.replace('s:',''),
  data:curveNames.slice(0,4).map((n,k)=>({name:'s:'+n, icon:'circle', itemStyle:{color:markColors[k],borderColor:'#222',borderWidth:1}}))});
legends.push({show:true,left:1199,top:1110,padding:0,orient:'vertical',selectedMode:false,itemWidth:17,itemHeight:14,itemGap:2,
  textStyle:scLegText, formatter:n=>n.replace('s:',''),
  data:curveNames.slice(4).map((n,k)=>({name:'s:'+n, icon:'triangle', itemStyle:{color:markColors[k+4],borderColor:'#222',borderWidth:1}}))});

const chart = echarts.init(document.getElementById('c'), null, {renderer:'canvas', width:1408, height:1254});
chart.setOption({
  backgroundColor:'#ffffff', animation:false,
  textStyle:{fontFamily:FONT},
  grid:grids, xAxis:xAxes, yAxis:yAxes, series, legend:legends, graphic:{elements:graphics}
});
</script></body></html>
